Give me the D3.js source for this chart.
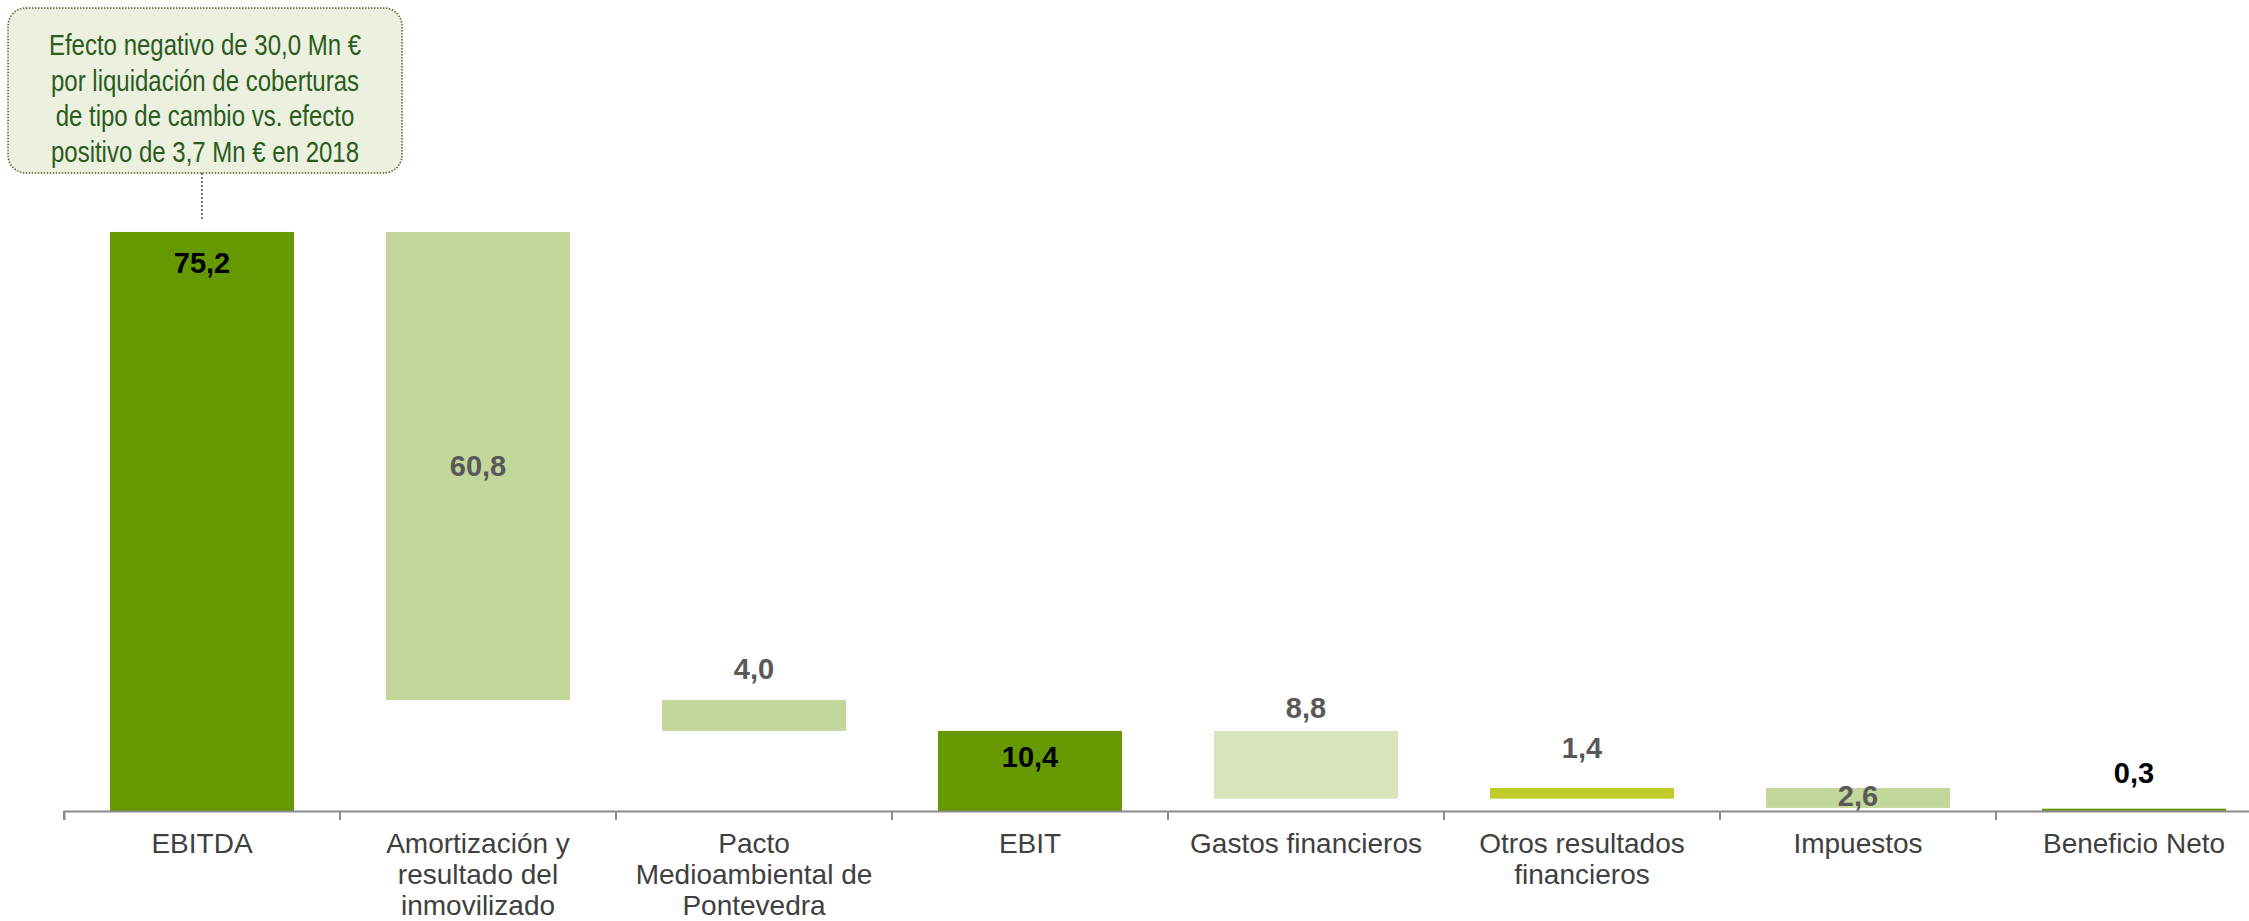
<!DOCTYPE html>
<html>
<head>
<meta charset="utf-8">
<script src="https://cdn.jsdelivr.net/npm/d3@7"></script>
<style>
  html, body { margin: 0; padding: 0; background: #fff; overflow: hidden; }
  svg { display: block; }
</style>
</head>
<body>
<svg id="chart" width="2249" height="921"></svg>
<script>
// ---- data (Mn €) ----
const categories = [
  "EBITDA",
  "Amortización y\nresultado del\ninmovilizado",
  "Pacto\nMedioambiental de\nPontevedra",
  "EBIT",
  "Gastos financieros",
  "Otros resultados\nfinancieros",
  "Impuestos",
  "Beneficio Neto"
];
const values  = [75.2, -60.8, -4.0, 10.4, -8.8, 1.4, -2.6, 0.3];
const isTotal = [true, false, false, true, false, false, false, true];
const calloutLines = [
  "Efecto negativo de 30,0 Mn €",
  "por liquidación de coberturas",
  "de tipo de cambio vs. efecto",
  "positivo de 3,7 Mn € en 2018"
];

// ---- styling ----
const DARK = "#669900", LIGHT = "#C4D79B", PALE = "#D8E4BC", LIME = "#BFCC29";
const barColors   = [DARK, LIGHT, LIGHT, DARK, PALE, LIME, LIGHT, DARK];
const labelColors = ["#000", "#595959", "#595959", "#000", "#595959", "#595959", "#595959", "#000"];
// where each value label sits: [anchor, pixel offset]
const labelPlacement = [
  ["inTop", 31], ["mid", 0], ["above", 31], ["inTop", 26],
  ["above", 23], ["above", 40], ["inBottom", 12], ["above", 36]
];
const FONT = "'Liberation Sans', Arial, sans-serif";

const svg = d3.select("#chart");

// ---- scales ----
const x = d3.scaleBand()
  .domain(categories)
  .range([64, 64 + 276 * categories.length])
  .paddingInner(1 / 3)
  .paddingOuter(1 / 6);

const y = d3.scaleLinear().domain([0, 80]).range([811, 195]);

// ---- waterfall segments ----
let running = 0;
const segments = categories.map((c, i) => {
  let from, to;
  if (isTotal[i]) { from = 0; to = values[i]; running = values[i]; }
  else { from = running; to = running + values[i]; running = to; }
  return { c, i, from, to, v: values[i] };
});

const fmt = d3.formatLocale({ decimal: ",", thousands: ".", grouping: [3], currency: ["", " €"] }).format(".1f");

// ---- bars ----
svg.append("g").selectAll("rect")
  .data(segments)
  .join("rect")
  .attr("x", d => x(d.c))
  .attr("width", x.bandwidth())
  .attr("y", d => y(Math.max(d.from, d.to)))
  .attr("height", d => Math.abs(y(d.from) - y(d.to)))
  .attr("fill", d => barColors[d.i]);

// ---- axis ----
const gap = x.step() - x.bandwidth();
const axis = svg.append("g")
  .attr("transform", `translate(0,${y(0)})`)
  .call(d3.axisBottom(x).tickSize(0).tickSizeOuter(9).tickPadding(0));

axis.select(".domain").attr("stroke", "#8C8C8C").attr("stroke-width", 2);
axis.attr("font-family", FONT).attr("font-size", 28);

axis.selectAll(".tick text")
  .attr("fill", "#404040")
  .attr("y", 42)
  .attr("dy", null)
  .each(function (d) {
    const t = d3.select(this);
    t.text(null);
    d.split("\n").forEach((line, k) => {
      t.append("tspan").attr("x", 0).attr("dy", k ? 31 : 0).text(line);
    });
  });

// separators between categories
axis.append("g").selectAll("line")
  .data(categories)
  .join("line")
  .attr("x1", d => x(d) - gap / 2)
  .attr("x2", d => x(d) - gap / 2)
  .attr("y1", 0)
  .attr("y2", 9)
  .attr("stroke", "#8C8C8C")
  .attr("stroke-width", 2);

// ---- value labels ----
function labelY(d) {
  const top = y(Math.max(d.from, d.to));
  const bottom = y(Math.min(d.from, d.to));
  const [mode, off] = labelPlacement[d.i];
  if (mode === "inTop") return top + off;
  if (mode === "above") return top - off;
  if (mode === "inBottom") return bottom - off;
  return (top + bottom) / 2;
}

svg.append("g").selectAll("text")
  .data(segments)
  .join("text")
  .attr("x", d => x(d.c) + x.bandwidth() / 2)
  .attr("y", d => labelY(d))
  .attr("dominant-baseline", "central")
  .attr("text-anchor", "middle")
  .attr("font-family", FONT)
  .attr("font-weight", "bold")
  .attr("font-size", 29)
  .attr("fill", d => labelColors[d.i])
  .text(d => fmt(Math.abs(d.v)));

// ---- callout on EBITDA ----
const cx = x(categories[0]) + x.bandwidth() / 2;
const box = { x: 8, y: 8, w: 394, h: 165 };

svg.append("line")
  .attr("x1", cx).attr("x2", cx)
  .attr("y1", box.y + box.h).attr("y2", y(values[0]) - 11)
  .attr("stroke", "#7F7F7F")
  .attr("stroke-width", 2)
  .attr("stroke-dasharray", "2,2");

svg.append("rect")
  .attr("x", box.x).attr("y", box.y)
  .attr("width", box.w).attr("height", box.h)
  .attr("rx", 18)
  .attr("fill", "#EBF1DE")
  .attr("stroke", "#4F6228")
  .attr("stroke-width", 1.5)
  .attr("stroke-dasharray", "1.5,1.5");

const calloutText = svg.append("g");
calloutLines.forEach((line, k) => {
  calloutText.append("g")
    .attr("transform", `translate(${box.x + box.w / 2},${55 + k * 35.7}) scale(0.8,1)`)
    .append("text")
    .attr("text-anchor", "middle")
    .attr("font-family", FONT)
    .attr("font-size", 30)
    .attr("fill", "#2B5B1E")
    .text(line);
});
</script>
</body>
</html>
